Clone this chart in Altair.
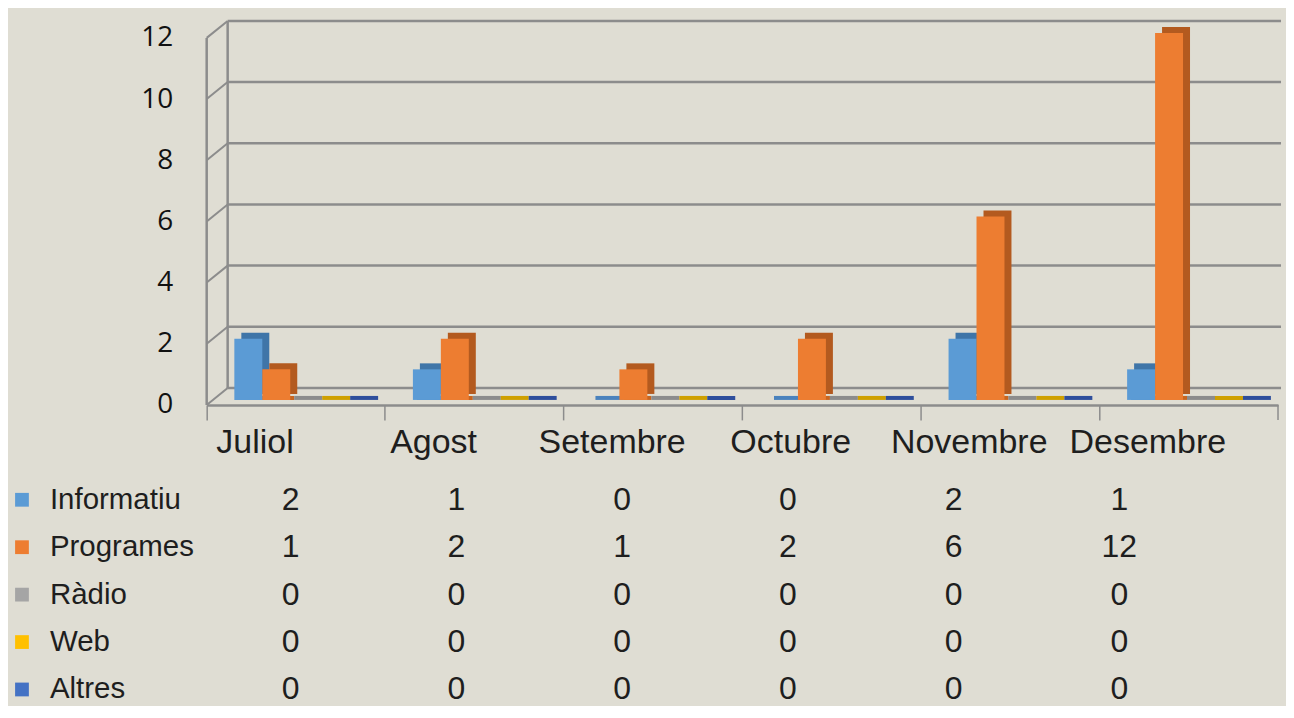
import altair as alt
import pandas as pd

# ---- data ----
months = ["Juliol", "Agost", "Setembre", "Octubre", "Novembre", "Desembre"]
series = ["Informatiu", "Programes", "Ràdio", "Web", "Altres"]
informatiu = [2, 1, 0, 0, 2, 1]
programes = [1, 2, 1, 2, 6, 12]
radio = [0, 0, 0, 0, 0, 0]
web = [0, 0, 0, 0, 0, 0]
altres = [0, 0, 0, 0, 0, 0]
y_ticks = [0, 2, 4, 6, 8, 10, 12]

# ---- styles ----
front_colors = ["#5b9bd5", "#ed7d31", "#a5a5a5", "#ffc000", "#4472c4"]
side_colors = ["#3f75a8", "#b35a1f", "#7f7f7f", "#c49400", "#2f4f94"]
strip_colors = ["#4a82bd", "#c8651f", "#8c8c8c", "#cfa000", "#2e4e9c"]
GRID = "#8c8c8c"
TEXT = "#1e1e1e"
BG = "#dfddd3"

W = 1073
H = 386
YMAX = 12.6
DX = 21   # depth of the 3D box, x
DY = 17   # depth of the 3D box, y

rows = []
for s, vals in zip(series, [informatiu, programes, radio, web, altres]):
    for m, v in zip(months, vals):
        rows.append({"month": m, "series": s, "value": v})
df = pd.DataFrame(rows)
grid_df = pd.DataFrame({"v": y_ticks})
month_df = pd.DataFrame({"month": months})
series_df = pd.DataFrame({"series": series})

yscale = alt.Scale(domain=[0, YMAX], nice=False, zero=True)
yaxis = alt.Axis(title=None, values=y_ticks, ticks=False, domain=False, grid=False,
                 labelPadding=34, labelFont="Open Sans", labelFontSize=28,
                 labelColor="#111111")
xscale = alt.Scale(domain=months, paddingInner=0, paddingOuter=0)
xaxis = alt.Axis(title=None, labels=False, domain=True, domainColor=GRID,
                 domainWidth=2.5, ticks=True, tickColor=GRID, tickWidth=1.5,
                 tickSize=15, bandPosition=0, grid=False)


def Yq(field):
    return alt.Y(field, scale=yscale, axis=yaxis)


def Xb():
    return alt.X("month:N", scale=xscale, axis=xaxis)


def xoff_scale(shift):
    return alt.Scale(domain=series, range=[27.7 + shift, 167.7 + shift],
                     paddingInner=0, paddingOuter=0)


# back wall gridlines
back_grid = alt.Chart(grid_df).mark_rule(color=GRID, strokeWidth=2.5, yOffset=-DY).encode(
    y=Yq("v:Q"), x=alt.value(DX), x2=alt.value(W + 3),
)
# left side-wall diagonals
diag = alt.Chart(grid_df).mark_rule(color=GRID, strokeWidth=2, y2Offset=-DY).encode(
    y=Yq("v:Q"), y2="v:Q", x=alt.value(0), x2=alt.value(DX),
)
# back wall left edge
back_edge = alt.Chart(grid_df).mark_rule(color=GRID, strokeWidth=2.5, yOffset=-DY, y2Offset=-DY).encode(
    y=Yq("min(v):Q"), y2="max(v):Q", x=alt.value(DX),
)
# front left edge
front_edge = alt.Chart(grid_df).mark_rule(color=GRID, strokeWidth=2.5).encode(
    y=Yq("min(v):Q"), y2="max(v):Q", x=alt.value(0),
)
# last tick at the right end of the floor
end_tick = alt.Chart(grid_df).mark_rule(color=GRID, strokeWidth=1.5, y2Offset=15).encode(
    y=Yq("min(v):Q"), y2="min(v):Q", x=alt.value(W),
)

# flat floor strips (visible for zero values)
strips = alt.Chart(df).transform_calculate(base="0").mark_tick(
    thickness=4, size=28, yOffset=-7, opacity=1).encode(
    x=Xb(),
    xOffset=alt.XOffset("series:N", scale=xoff_scale(4)),
    y=Yq("base:Q"),
    color=alt.Color("series:N", scale=alt.Scale(domain=series, range=strip_colors), legend=None),
)
# side / top faces
side = alt.Chart(df).mark_bar(yOffset=-11, y2Offset=-11, opacity=1).encode(
    x=Xb(),
    xOffset=alt.XOffset("series:N", scale=xoff_scale(7)),
    y=Yq("value:Q"),
    color=alt.Color("series:N", scale=alt.Scale(domain=series, range=side_colors), legend=None),
)
# front faces
front = alt.Chart(df).mark_bar(yOffset=-5, y2Offset=-5, opacity=1).encode(
    x=Xb(),
    xOffset=alt.XOffset("series:N", scale=xoff_scale(0)),
    y=Yq("value:Q"),
    color=alt.Color("series:N", scale=alt.Scale(domain=series, range=front_colors), legend=None),
)
# month labels
month_labels = alt.Chart(month_df).mark_text(
    dx=-41, fontSize=34, font="Liberation Sans", color=TEXT).encode(
    x=Xb(),
    y=alt.value(H + 38),
    text="month:N",
)

plot = alt.layer(back_grid, diag, back_edge, front_edge, end_tick,
                 strips, side, front, month_labels).resolve_scale(
    color="independent", xOffset="independent")

# ---- data table below ----
tx = alt.X("month:N", scale=alt.Scale(type="point", domain=months, range=[84, 914], padding=0),
           axis=None)
ty = alt.Y("series:N", scale=alt.Scale(type="point", domain=series, range=[481, 671], padding=0),
           axis=None)

table_vals = alt.Chart(df).mark_text(fontSize=32, font="Liberation Sans", color=TEXT).encode(
    x=tx, y=ty, text="value:Q")
row_labels = alt.Chart(series_df).mark_text(
    align="left", fontSize=29.5, font="Liberation Sans", color=TEXT).encode(
    x=alt.value(-157), y=ty, text="series:N")
squares = alt.Chart(series_df).mark_square(size=190, opacity=1).encode(
    x=alt.value(-185), y=ty,
    color=alt.Color("series:N", scale=alt.Scale(domain=series, range=front_colors), legend=None),
)
table = alt.layer(table_vals, row_labels, squares)

chart = alt.layer(plot, table).resolve_scale(
    x="independent", y="independent", color="independent"
).properties(
    width=W, height=H, background=BG,
    padding={"left": 7, "top": 11, "right": 3, "bottom": 0},
).configure_view(stroke=None)

chart.save("out.html", embed_options={"renderer": "svg", "actions": False})
